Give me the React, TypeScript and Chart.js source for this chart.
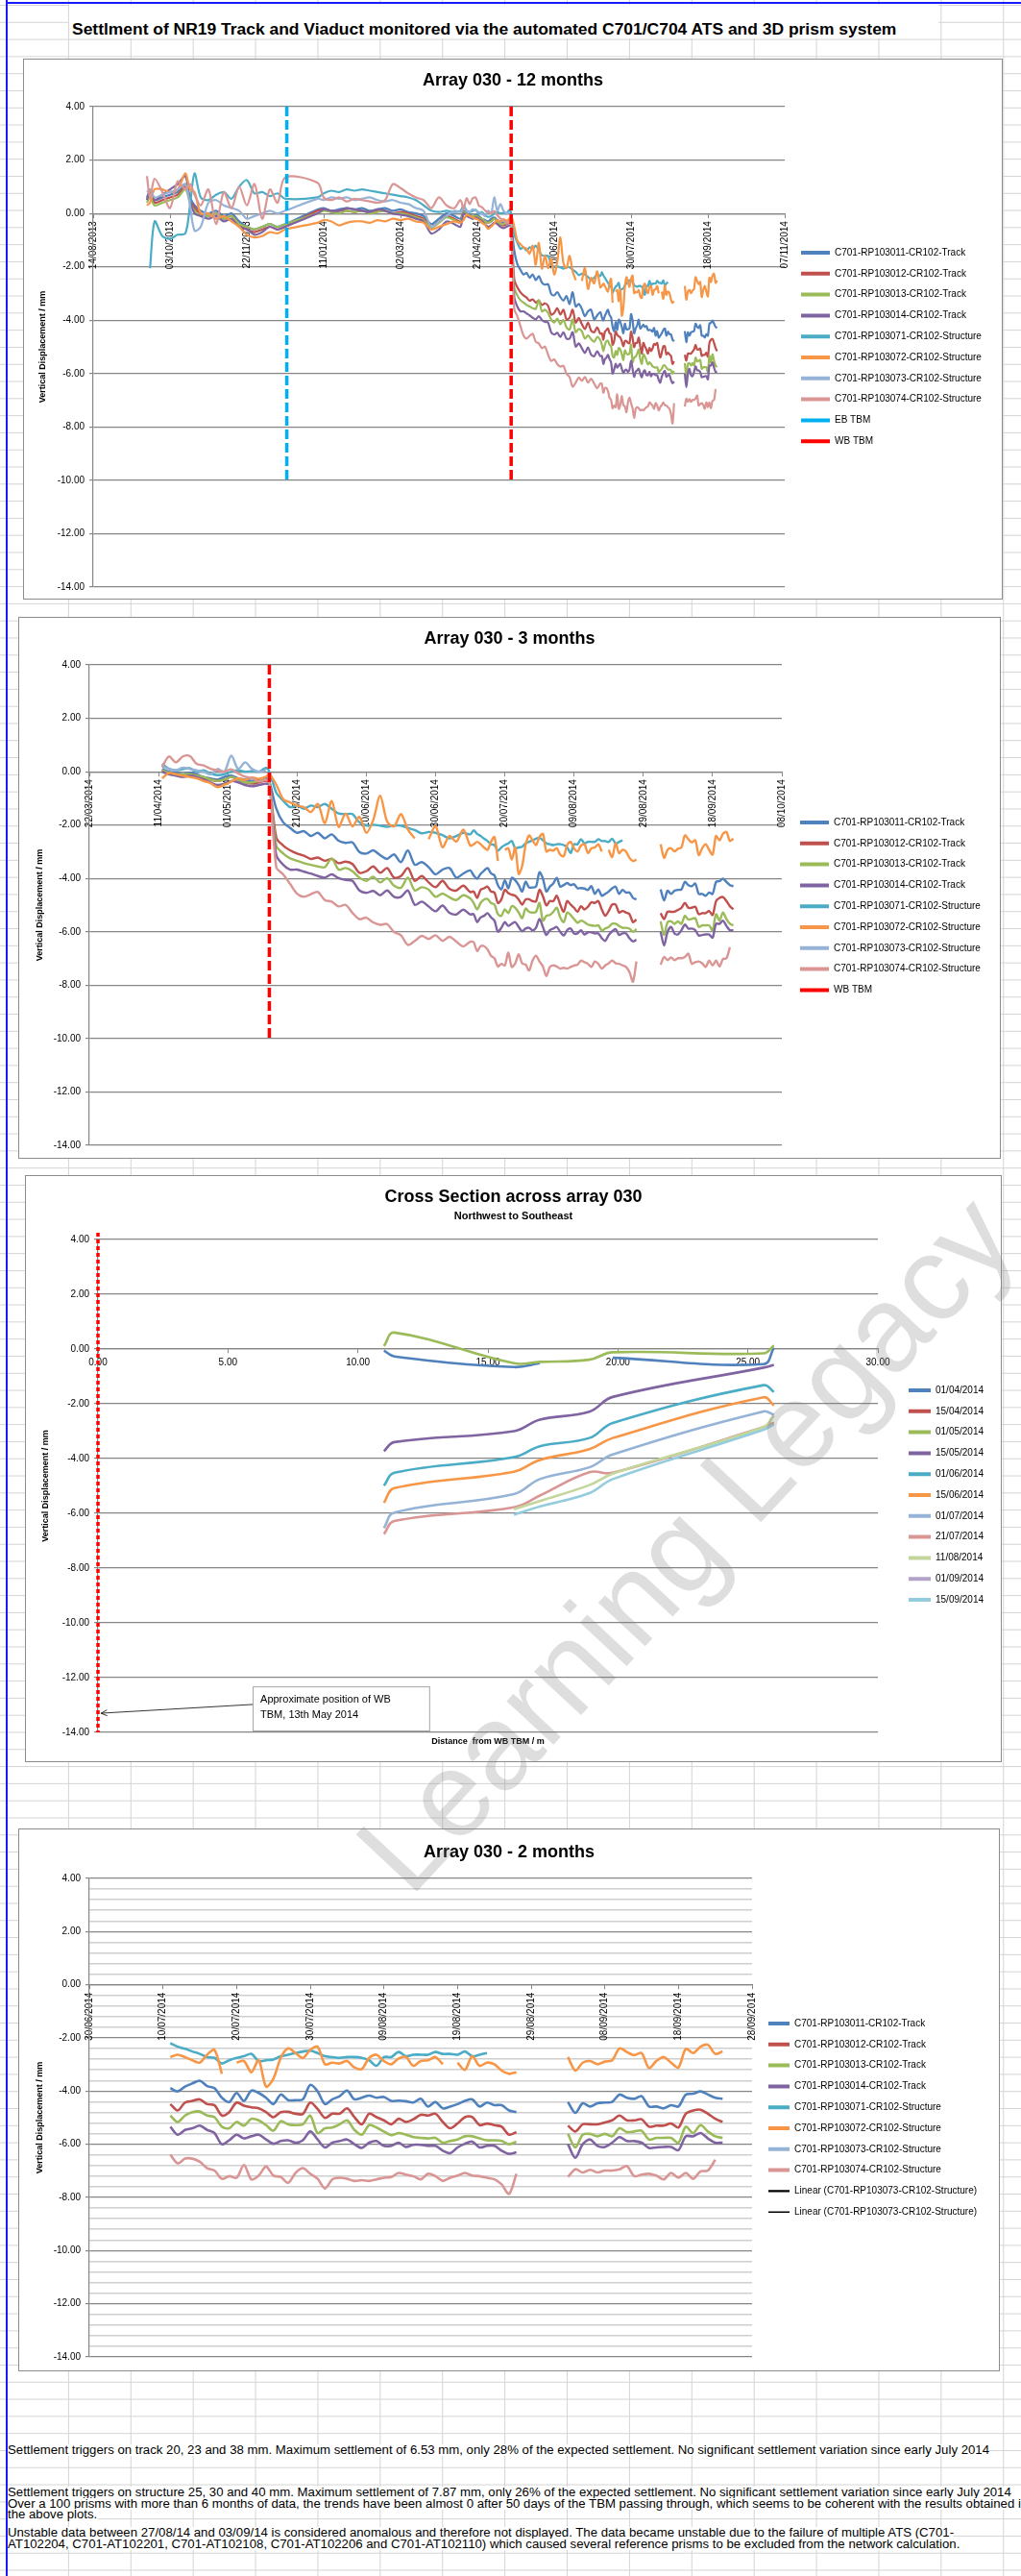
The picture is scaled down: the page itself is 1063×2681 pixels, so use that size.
import React, { useEffect, useRef } from "react";
import { Chart, registerables } from "chart.js";

Chart.register(...registerables);

const FONT = "'Liberation Sans', Arial, Helvetica, sans-serif";
Chart.defaults.font.family = FONT;
Chart.defaults.color = "#000";

// ---------------- DATA ----------------
const DATES = [
  "2013-09-18","2013-09-20","2013-09-23","2013-09-28","2013-10-03","2013-10-08","2013-10-13","2013-10-16","2013-10-19","2013-10-23",
  "2013-10-28","2013-11-02","2013-11-07","2013-11-12","2013-11-17","2013-11-22","2013-11-27","2013-12-02","2013-12-07","2013-12-12",
  "2013-12-17","2014-01-07","2014-01-11","2014-01-16","2014-01-21","2014-01-26","2014-01-31","2014-02-05","2014-02-10","2014-02-15",
  "2014-02-20","2014-02-25","2014-03-02","2014-03-07","2014-03-12","2014-03-17","2014-03-22","2014-03-27","2014-04-01","2014-04-06",
  "2014-04-10",
  "2014-04-12","2014-04-14","2014-04-16","2014-04-18","2014-04-20","2014-04-22","2014-04-24","2014-04-26","2014-04-28","2014-04-30",
  "2014-05-02","2014-05-04","2014-05-06","2014-05-08","2014-05-10","2014-05-12",
  "2014-05-13","2014-05-15","2014-05-17","2014-05-19","2014-05-21","2014-05-23","2014-05-25","2014-05-27","2014-05-29","2014-05-31",
  "2014-06-02","2014-06-04","2014-06-06","2014-06-08","2014-06-10","2014-06-12","2014-06-14","2014-06-16","2014-06-18","2014-06-20",
  "2014-06-22","2014-06-24","2014-06-26","2014-06-28","2014-06-30","2014-07-02","2014-07-04","2014-07-06","2014-07-08","2014-07-10",
  "2014-07-11","2014-07-12","2014-07-13","2014-07-14","2014-07-15","2014-07-16","2014-07-17","2014-07-18","2014-07-19","2014-07-20",
  "2014-07-21","2014-07-22","2014-07-23","2014-07-24","2014-07-25","2014-07-26","2014-07-27","2014-07-28","2014-07-29","2014-07-30",
  "2014-07-31","2014-08-01","2014-08-02","2014-08-03","2014-08-04","2014-08-05","2014-08-06","2014-08-07","2014-08-08","2014-08-09",
  "2014-08-10","2014-08-11","2014-08-12","2014-08-13","2014-08-14","2014-08-15","2014-08-16","2014-08-17","2014-08-18","2014-08-19",
  "2014-08-20","2014-08-21","2014-08-22","2014-08-23","2014-08-24","2014-08-25","2014-08-26","2014-08-27",
  "2014-08-30",
  "2014-09-03","2014-09-04","2014-09-05","2014-09-06","2014-09-07","2014-09-08","2014-09-09","2014-09-10","2014-09-11","2014-09-12",
  "2014-09-13","2014-09-14","2014-09-15","2014-09-16","2014-09-17","2014-09-18","2014-09-19","2014-09-20","2014-09-21","2014-09-22",
  "2014-09-23","2014-09-24",
];

const TRACK_11 = [
  0.6, 0.8, 0.5, 0.6, 0.7, 0.8, 1.1, 0.6, 0.3, 0.1, 0.0, 0.1, -0.1, 0.0, -0.3, -0.5, -0.6, -0.5, -0.4, -0.5, -0.4,
  0.15, 0.2, 0.1, 0.15, 0.2, 0.15, 0.2, 0.1, 0.15, 0.2, 0.1, 0.15, 0.05, 0.0, -0.1, -0.4, -0.2, 0.0, -0.1, -0.2,
  0.1, 0.0, -0.05, -0.1, -0.05, -0.1, -0.2, -0.25, -0.3, -0.2, -0.15, -0.25, -0.3, -0.35, -0.3, -0.25,
  -0.37, -1.39, -1.9, -2.11, -2.29, -2.23, -2.41, -2.29, -2.5, -2.35, -2.59, -2.67, -2.65, -3.01, -3.07, -2.95, -3.13, -3.27, -3.1, -3.39,
  -2.95, -3.49, -3.39, -3.58, -3.85, -3.67, -3.61, -3.97, -3.82, -3.7,
  -3.89, -4.01, -3.83, -3.71, -3.61, -3.81, -3.89, -4.25, -4.41, -4.07, -4.37, -3.98, -4.07, -4.25, -4.49, -4.13, -4.34, -4.34, -4.31, -3.77,
  -4.01, -4.49, -4.31, -4.19, -3.98, -4.31, -4.25, -4.17, -4.25, -4.22, -4.37, -4.36, -4.38, -4.43, -4.29, -4.58, -4.41, -4.65, -4.58, -4.49,
  -4.37, -4.31, -4.58, -4.43, -4.53, -4.53, -4.73, -4.79,
  null,
  -4.41, -4.82, -4.46, -4.58, -4.46, -4.43, -4.41, -4.13, -4.25, -4.29, -4.19, -4.58, -4.58, -4.65, -4.53, -4.58, -4.13, -4.1, -4.01, -4.13,
  -4.25, -4.29,
];
const TRACK_12 = [
  0.5, 0.7, 0.4, 0.5, 0.6, 0.7, 1.0, 0.5, 0.2, 0.0, -0.1, 0.0, -0.2, -0.1, -0.4, -0.6, -0.7, -0.6, -0.5, -0.6, -0.5,
  0.1, 0.15, 0.05, 0.1, 0.1, 0.05, 0.1, 0.05, 0.1, 0.1, 0.0, 0.05, 0.0, -0.1, -0.2, -0.5, -0.3, -0.1, -0.2, -0.3,
  0.05, -0.05, -0.1, -0.15, -0.1, -0.15, -0.25, -0.3, -0.35, -0.3, -0.2, -0.3, -0.4, -0.45, -0.4, -0.35,
  -0.45, -2.47, -2.77, -2.95, -3.07, -3.15, -3.27, -3.22, -3.34, -3.27, -3.43, -3.37, -3.46, -3.79, -3.73, -3.55, -3.79, -3.61, -3.97, -3.91,
  -3.61, -4.09, -3.91, -4.15, -4.33, -4.09, -4.39, -4.45, -4.27, -4.51,
  -4.49, -4.73, -4.43, -4.37, -4.31, -4.49, -4.53, -4.92, -4.79, -4.43, -4.55, -4.61, -4.65, -4.79, -4.98, -4.79, -4.78, -4.85, -4.86, -4.43,
  -4.67, -5.01, -4.85, -4.85, -4.65, -4.98, -5.25, -4.85, -4.98, -5.1, -5.25, -5.04, -5.16, -5.06, -4.89, -4.92, -4.85, -5.16, -5.4, -5.22,
  -4.98, -4.98, -5.28, -5.22, -5.28, -5.34, -5.64, -5.54,
  null,
  -5.3, -5.52, -5.25, -5.25, -5.25, -5.18, -5.1, -4.92, -5.1, -5.1, -5.06, -5.34, -5.3, -5.3, -5.22, -5.37, -4.85, -4.73, -4.7, -4.85,
  -5.04, -5.16,
];
const TRACK_13 = [
  0.4, 0.6, 0.3, 0.4, 0.5, 0.6, 0.9, 0.4, 0.1, -0.1, -0.1, 0.0, -0.2, -0.1, -0.4, -0.5, -0.6, -0.5, -0.4, -0.5, -0.4,
  0.0, 0.1, 0.05, 0.0, 0.1, 0.05, 0.1, 0.0, 0.05, 0.1, 0.0, 0.0, -0.05, -0.15, -0.25, -0.55, -0.35, -0.15, -0.25, -0.35,
  0.05, -0.05, -0.1, -0.1, -0.1, -0.15, -0.2, -0.3, -0.35, -0.3, -0.2, -0.3, -0.4, -0.4, -0.35, -0.3,
  -0.4, -2.77, -3.07, -3.25, -3.34, -3.43, -3.49, -3.55, -3.58, -3.25, -3.67, -3.61, -3.73, -3.97, -4.09, -3.94, -4.15, -3.99, -4.27, -4.35,
  -3.97, -4.45, -4.33, -4.42, -4.69, -4.57, -4.71, -4.81, -4.63, -4.75,
  -4.92, -5.16, -4.92, -4.79, -4.77, -4.92, -4.98, -5.34, -5.4, -5.16, -5.3, -5.04, -5.1, -5.28, -5.49, -5.13, -5.25, -5.28, -5.25, -4.92,
  -5.58, -5.4, -5.37, -5.25, -5.1, -5.46, -5.64, -5.28, -5.37, -5.52, -5.66, -5.58, -5.64, -5.73, -5.76, -5.78, -5.76, -5.94, -5.88, -5.82,
  -5.7, -5.7, -5.78, -5.85, -5.85, -5.88, -6.0, -5.9,
  null,
  -5.61, -6.12, -5.64, -5.61, -5.7, -5.61, -5.7, -5.4, -5.54, -5.52, -5.49, -5.82, -5.76, -5.76, -5.76, -5.94, -5.34, -5.58, -5.28, -5.52,
  -5.7, -5.76,
];
const TRACK_14 = [
  0.5, 0.9, 0.5, 0.7, 0.9, 1.1, 1.4, 0.5, 0.0, -0.1, -0.2, -0.1, -0.3, -0.2, -0.5, -0.6, -0.8, -0.7, -0.5, -0.6, -0.5,
  0.0, 0.15, 0.1, 0.1, 0.2, 0.15, 0.1, 0.05, 0.15, 0.1, 0.0, -0.05, -0.1, -0.2, -0.3, -0.75, -0.6, -0.3, -0.4, -0.5,
  0.0, -0.1, -0.15, -0.2, -0.15, -0.2, -0.3, -0.4, -0.5, -0.45, -0.35, -0.4, -0.5, -0.55, -0.5, -0.45,
  -0.5, -3.13, -3.49, -3.67, -3.67, -3.75, -3.82, -3.91, -3.97, -3.85, -3.99, -4.06, -4.09, -4.45, -4.54, -4.47, -4.63, -4.45, -4.69, -4.69,
  -4.45, -4.99, -4.87, -5.05, -5.23, -5.02, -5.29, -5.35, -5.17, -5.35,
  -5.34, -5.64, -5.46, -5.4, -5.3, -5.46, -5.58, -6.0, -5.85, -5.64, -5.78, -5.7, -5.64, -5.82, -5.98, -5.88, -5.85, -5.94, -5.85, -5.52,
  -5.82, -6.12, -5.94, -5.88, -5.82, -6.0, -6.14, -5.94, -5.88, -6.06, -6.06, -5.94, -6.1, -6.02, -6.02, -6.06, -6.06, -6.24, -6.34, -6.12,
  -5.98, -5.9, -6.12, -6.06, -6.06, -6.24, -6.36, -6.3,
  null,
  -6.0, -6.51, -6.0, -5.82, -6.06, -6.1, -5.94, -5.73, -5.88, -5.88, -5.94, -6.14, -6.12, -6.1, -6.1, -6.22, -5.7, -5.7, -5.58, -5.78,
  -5.94, -5.94,
];
const STRUCT_71 = [
  null, -2.05, -0.3, -0.85, -0.95, -0.8, -0.75, 0.3, 1.5, 0.6, 0.5, 0.7, 0.8, 0.55, 1.0, 1.25, 0.75, 0.8, 0.65, 0.75, 0.55,
  0.6, 0.75, 0.85, 0.8, 0.9, 0.85, 0.9, 0.85, 0.8, 0.75, 0.7, 0.65, 0.6, 0.5, 0.3, 0.1, 0.05, 0.1, 0.05, 0.1,
  0.29, 0.11, 0.05, 0.09, 0.13, -0.01, 0.05, -0.07, -0.13, -0.1, 0.0, 0.05, 0.0, 0.02, 0.0, 0.14,
  0.0, -0.79, -1.09, -1.33, -1.27, -1.39, -1.27, -1.33, -1.21, -1.39, -1.57, -1.59, -1.59, -1.9, -2.02, -1.99, -2.02, -2.07, -2.02, -2.02,
  -2.11, -2.19, -2.31, -2.26, -2.29, -2.38, -2.5, -2.41, -2.29, -2.35,
  -2.2, -2.33, -2.41, -2.51, -2.6, -2.72, -2.75, -2.96, -2.84, -2.75, -2.69, -2.6, -2.87, -2.84, -2.81, -2.69, -2.63, -2.57, -2.51, -2.48,
  -2.57, -2.69, -2.72, -2.75, -2.72, -2.72, -2.75, -2.84, -3.05, -2.72, -2.72, -2.53, -2.69, -2.63, -2.63, -2.63, -2.53, -2.6, -2.6, -2.63,
  -2.51, -2.69, -2.63, -2.57, null, null, null, null,
];
const STRUCT_72 = [
  0.3, 0.4, 0.9, 0.9, 0.8, 0.9, 1.5, 0.9, 0.8, 0.0, 0.0, -0.2, -0.1, -0.3, -0.5, -0.8, -0.9, -0.85, -0.7, -0.75, -0.6,
  -0.35, -0.25, -0.3, -0.45, -0.35, -0.3, -0.3, -0.35, -0.25, -0.3, -0.2, -0.25, -0.2, -0.3, -0.35, -0.6, -0.5, -0.4, -0.3, -0.35,
  -0.25, -0.05, -0.1, -0.15, -0.2, -0.25, -0.35, -0.43, -0.58, -0.49, -0.37, -0.25, -0.31, -0.22, -0.27, -0.19,
  -0.1, -0.49, -1.03, -1.15, -1.27, -1.33, -1.51, -1.21, -1.93, -1.1, -2.07, -1.57, -2.05, -1.69, -2.29, -1.81, -0.9, -1.87, -2.05, -1.59,
  -2.17, -2.5, null, -2.53, -2.05, -2.83, -2.41, -2.62, -2.17, -2.77,
  -2.72, -2.63, -2.72, -2.84, -2.93, -2.63, -2.45, -3.35, null, -2.93, -2.87, -3.29, -2.84, -3.83, -3.53, -2.75, -2.39, -2.57, -2.75, -2.45,
  -2.33, -2.99, -2.93, -2.96, -2.87, -3.11, -3.17, -2.75, -2.63, -2.87, -2.99, -2.77, -2.72, -3.05, -2.87, -2.84, -2.72, -2.99, null, -2.93,
  -3.2, -2.69, -3.05, -2.93, -2.99, -3.23, -3.35, -3.29,
  null,
  -2.72, -3.23, -2.93, -2.87, -2.99, -2.89, -2.84, -2.39, -2.53, -2.65, -2.57, -3.13, -2.87, -2.72, -2.93, -3.11, -2.41, -2.57, -2.33, -2.26,
  -2.6, -2.51,
];
const STRUCT_73 = [
  0.8, 0.9, 0.6, 0.7, 0.8, 0.9, 1.1, 0.3, -0.65, -0.5, 0.4, 0.5, 0.3, 0.2, 0.1, -0.2, -0.1, 0.0, 0.1, 0.0, 0.1,
  0.55, 0.5, 0.6, 0.55, 0.6, 0.5, 0.55, 0.6, 0.5, 0.45, 0.5, 0.4, 0.35, 0.2, 0.1, -0.5, -0.3, -0.1, 0.1, 0.05,
  0.2, 0.1, 0.05, 0.15, 0.1, 0.05, 0.0, -0.1, 0.1, 0.0, 0.6, 0.1, 0.35, 0.1, 0.0, 0.05,
];
const STRUCT_74 = [
  1.4, 0.6, 1.3, 0.8, 0.2, 1.2, 0.9, 1.1, 0.7, 0.3, 0.9, -0.4, 0.8, 0.2, 1.0, 0.3, 1.1, -0.2, 0.9, 0.4, 1.35,
  1.15, 0.6, 0.5, 0.6, 0.45, 0.55, 0.5, 0.45, 0.4, 0.5, 1.1, 0.95, 0.75, 0.6, 0.5, 0.2, 0.6, 0.3, 0.2, 0.5,
  0.17, 0.57, 0.35, 0.57, 0.59, 0.29, 0.23, 0.11, 0.05, 0.0, 0.09, -0.07, -0.19, -0.25, -0.37, -0.31,
  -0.4, -3.58, -3.85, -4.21, -4.57, -4.69, -4.59, -4.51, -4.81, -4.87, -5.05, -4.99, -5.29, -5.53, -5.47, -5.65, -5.74, -5.71, -6.01, -6.13,
  -6.49, -6.34, -6.15, -6.27, -6.13, -6.34, -6.19, -6.37, -6.55, -6.37,
  -6.39, -6.72, -6.54, -6.54, -6.66, -6.9, -6.99, -7.3, -7.2, -7.26, -6.78, -7.32, -7.18, -6.84, -7.18, -7.23, -7.45, -7.08, -6.9, -7.11,
  -7.3, -7.66, -7.32, -7.26, -7.3, -7.38, -7.35, -7.38, -7.32, -7.26, -7.23, -7.08, -7.14, -7.2, -7.32, -7.11, -7.2, -7.38, -7.26, -7.18,
  -7.08, -7.18, -7.2, -7.26, -7.32, -7.51, -7.87, -7.11,
  null,
  -7.23, -6.94, -7.06, -6.96, -7.06, -6.99, -6.99, -6.94, -6.82, -7.2, -7.14, -7.11, -7.18, -7.32, -7.08, -7.26, -7.08, -7.3, -7.02, -6.99,
  -6.58, null,
];

const SERIES_LABELS = [
  "C701-RP103011-CR102-Track", "C701-RP103012-CR102-Track", "C701-RP103013-CR102-Track", "C701-RP103014-CR102-Track",
  "C701-RP103071-CR102-Structure", "C701-RP103072-CR102-Structure", "C701-RP103073-CR102-Structure", "C701-RP103074-CR102-Structure",
];
const SERIES_VALUES = [TRACK_11, TRACK_12, TRACK_13, TRACK_14, STRUCT_71, STRUCT_72, STRUCT_73, STRUCT_74];
const SERIES_COLORS = ["#4F81BD", "#C0504D", "#9BBB59", "#8064A2", "#4BACC6", "#F79646", "#95B3D7", "#D99694"];

const EB_TBM_DATE = "2013-12-18";
const WB_TBM_DATE = "2014-05-13";
const TBM_LINE_Y = [4, -10];
const TREND_LABELS = ["Linear (C701-RP103073-CR102-Structure)", "Linear (C701-RP103073-CR102-Structure)"];

const X_TICKS_12M = ["2013-08-14","2013-10-03","2013-11-22","2014-01-11","2014-03-02","2014-04-21","2014-06-10","2014-07-30","2014-09-18","2014-11-07"];
const X_TICKS_3M = ["2014-03-22","2014-04-11","2014-05-01","2014-05-21","2014-06-10","2014-06-30","2014-07-20","2014-08-09","2014-08-29","2014-09-18","2014-10-08"];
const X_TICKS_2M = ["2014-06-30","2014-07-10","2014-07-20","2014-07-30","2014-08-09","2014-08-19","2014-08-29","2014-09-08","2014-09-18","2014-09-28"];
const START_3M = "2014-04-11";
const START_2M = "2014-07-11";
const Y_TICKS = [4, 2, 0, -2, -4, -6, -8, -10, -12, -14];

// cross section
const CS_DIST = [11.0, 11.4, 16.0, 17.0, 18.9, 19.8, 25.6, 26.0];
const CS_LABELS = ["01/04/2014","15/04/2014","01/05/2014","15/05/2014","01/06/2014","15/06/2014","01/07/2014","21/07/2014","11/08/2014","01/09/2014","15/09/2014"];
const CS_0104 = [-0.06, -0.27, -0.66, -0.52, null, -0.32, -0.55, 0.05];
const CS_1504 = [null, null, null, null, null, null, null, null];
const CS_0105 = [0.11, 0.6, -0.52, -0.47, -0.39, -0.12, -0.16, 0.13];
const CS_1505 = [-3.73, -3.4, -3.0, -2.58, -2.29, -1.75, -0.68, -0.58];
const CS_0106 = [-4.99, -4.52, -3.95, -3.55, -3.25, -2.7, -1.32, -1.57];
const CS_1506 = [-5.61, -5.08, -4.48, -4.05, -3.66, -3.25, -1.76, -2.06];
const CS_0107 = [-6.54, -5.97, -5.3, -4.75, -4.32, -3.85, -2.28, -2.4];
const CS_2107 = [-6.76, -6.28, -5.78, -5.35, -4.5, -4.52, -2.85, -2.69];
const CS_1108 = [null, null, -5.85, -5.55, -4.97, -4.55, -2.85, -2.43];
const CS_0109 = [null, null, null, null, null, null, null, null];
const CS_1509 = [null, null, -6.05, -5.75, -5.26, -4.75, -2.95, -2.75];
const CS_VALUES = [CS_0104, CS_1504, CS_0105, CS_1505, CS_0106, CS_1506, CS_0107, CS_2107, CS_1108, CS_0109, CS_1509];
const CS_COLORS = ["#4F81BD", "#C0504D", "#9BBB59", "#8064A2", "#4BACC6", "#F79646", "#95B3D7", "#D99694", "#C3D69B", "#B3A2C7", "#93CDDD"];
const CS_X_TICKS = [0, 5, 10, 15, 20, 25, 30];
const CS_WB_X = 0;
const CS_WB_Y = [4.25, -14];
const CS_NOTE = ["Approximate position of WB", "TBM, 13th May 2014"];
const CS_NOTE_BOX = [5.95, 12.74, -12.32, -13.93];
const CS_ARROW = [5.95, -12.98, 0.12, -13.3];

// ---------------- HELPERS ----------------
const DAY = 86400000;
const dayNum = (s: string) => Date.UTC(+s.slice(0, 4), +s.slice(5, 7) - 1, +s.slice(8, 10)) / DAY;
const two = (n: number) => (n < 10 ? "0" : "") + n;
const fmtDate = (v: number) => {
  const d = new Date(Math.round(v) * DAY);
  return `${two(d.getUTCDate())}/${two(d.getUTCMonth() + 1)}/${d.getUTCFullYear()}`;
};

// pins the legend block and centres the title blocks over the whole chart frame
const layoutPins = {
  id: "layoutPins",
  afterLayout(chart: any, _a: any, opts: any) {
    (chart.boxes || []).forEach((b: any) => {
      if (b.options && b.options.position === "top" && b.fullSize && b !== chart.legend) {
        b.left = 0;
        b.right = chart.width;
        b.width = chart.width;
      }
    });
    const lg = chart.legend;
    if (!lg || !opts || opts.x == null) return;
    const pad = lg.options.labels.padding;
    const fs = lg.options.labels.font.size || 10;
    lg.left = opts.x - pad;
    lg.right = chart.width;
    lg.top = opts.y - fs / 2 - pad;
    lg.bottom = chart.height;
  },
};

function legendLabels(chart: any) {
  const items = Chart.defaults.plugins.legend.labels.generateLabels(chart);
  return items.map((it: any) => {
    const ds = chart.data.datasets[it.datasetIndex];
    return {
      ...it,
      fillStyle: ds.borderColor,
      strokeStyle: ds.borderColor,
      lineWidth: ds.legendWidth || 4,
      lineDash: ds.borderDash || [],
      lineCap: "butt",
    };
  });
}

function baseOptions(sp: any) {
  const [pl, pt, pr, pb] = sp.plot;
  const TS = 18;
  const lh = TS * 1.2;
  const tTop = sp.titleY - lh / 2;
  let titleBottom: number;
  let subtitle: any = { display: false };
  if (sp.subtitle) {
    const slh = 11 * 1.2;
    const sTop = sp.subtitleY - slh / 2;
    titleBottom = sTop - (tTop + lh);
    subtitle = {
      display: true, text: sp.subtitle, color: "#000",
      font: { size: 11, weight: "bold" }, padding: { top: 0, bottom: pt - sTop - slh },
    };
  } else {
    titleBottom = pt - tTop - lh;
  }
  const yMajor = (v: number) => Math.abs(v / 2 - Math.round(v / 2)) < 1e-6;
  return {
    responsive: false,
    animation: false,
    devicePixelRatio: 1,
    events: [],
    layout: { padding: { left: 0, top: 0, right: sp.W - pr - 1, bottom: sp.H - pb } },
    plugins: {
      title: {
        display: true, text: sp.title, color: "#000",
        font: { size: TS, weight: "bold" }, padding: { top: tTop, bottom: titleBottom },
      },
      subtitle,
      legend: {
        display: true, position: "right", align: "start", fullSize: false, maxWidth: 1,
        labels: {
          boxWidth: sp.boxWidth, boxHeight: 0, padding: 11.8, color: "#000",
          font: { size: 10 }, generateLabels: legendLabels,
          filter: (it: any, data: any) => !data.datasets[it.datasetIndex].hideInLegend,
          sort: (a: any, b: any) => a.datasetIndex - b.datasetIndex,
        },
      },
      tooltip: { enabled: false },
      layoutPins: { x: sp.legendX, y: sp.legendY },
    },
    scales: {
      x: {
        type: "linear",
        position: { y: 0 },
        min: sp.xMin, max: sp.xMax,
        afterBuildTicks: (s: any) => { s.ticks = sp.xTicks.map((v: number) => ({ value: v })); },
        ticks: {
          callback: sp.xFmt, autoSkip: false, minRotation: sp.xRot, maxRotation: sp.xRot,
          font: { size: 10 }, color: "#000", padding: 4,
        },
        grid: { drawOnChartArea: false, drawTicks: true, tickLength: 4, color: "#868686" },
        border: { display: true, color: "#868686", width: 1.2 },
      },
      y: {
        type: "linear",
        min: -14, max: 4,
        afterBuildTicks: (s: any) => { s.ticks = sp.yTicks.map((v: number) => ({ value: v })); },
        afterFit: (s: any) => { s.width = pl; },
        ticks: {
          callback: (v: any) => (yMajor(+v) ? (+v).toFixed(2) : ""),
          autoSkip: false, font: { size: 10 }, color: "#000", padding: 5,
        },
        grid: {
          color: (c: any) => (c.tick && !yMajor(c.tick.value) ? "#cfcfcf" : "#868686"),
          lineWidth: (c: any) => (c.tick && !yMajor(c.tick.value) ? 1.5 : 1.2),
          tickColor: (c: any) => (c.tick && !yMajor(c.tick.value) ? "rgba(0,0,0,0)" : "#868686"),
          drawTicks: true, tickLength: 4,
        },
        border: { display: true, color: "#868686", width: 1.2 },
        title: {
          display: true, text: "Vertical Displacement / mm", color: "#000",
          font: { size: 9, weight: "bold" }, padding: { top: sp.yTitleX - 5.4, bottom: 0 },
        },
      },
    },
  };
}

function timeSeriesDatasets(from: string, width: number) {
  const f = dayNum(from);
  return SERIES_VALUES.map((vals, i) => ({
    label: SERIES_LABELS[i],
    data: DATES.map((d, j) => ({ x: dayNum(d), y: j < vals.length ? vals[j] : null })).filter((p) => p.x >= f),
    borderColor: SERIES_COLORS[i],
    backgroundColor: SERIES_COLORS[i],
    borderWidth: width,
    pointRadius: 0,
    tension: 0.3,
    spanGaps: false,
    order: 100 - i,
  }));
}

function tbmDataset(label: string, date: string, color: string) {
  return {
    label,
    data: TBM_LINE_Y.map((y) => ({ x: dayNum(date), y })),
    borderColor: color, backgroundColor: color,
    borderWidth: 3.5, borderDash: [10, 4], pointRadius: 0, order: 0,
  };
}

function config12m() {
  const datasets: any[] = timeSeriesDatasets(DATES[0], 2.2);
  datasets.push(tbmDataset("EB TBM", EB_TBM_DATE, "#00B0F0"));
  datasets.push(tbmDataset("WB TBM", WB_TBM_DATE, "#FF0000"));
  return {
    type: "line",
    data: { datasets },
    options: baseOptions({
      W: 1020, H: 563, plot: [73, 50, 793, 550], title: "Array 030 - 12 months", titleY: 23,
      yTitleX: 21, legendX: 810, legendY: 202, boxWidth: 30,
      xMin: dayNum(X_TICKS_12M[0]), xMax: dayNum(X_TICKS_12M[X_TICKS_12M.length - 1]),
      xTicks: X_TICKS_12M.map(dayNum), xFmt: fmtDate, xRot: 90, yTicks: Y_TICKS,
    }),
    plugins: [layoutPins],
  };
}

function config3m() {
  const datasets: any[] = timeSeriesDatasets(START_3M, 2.4);
  datasets.push(tbmDataset("WB TBM", WB_TBM_DATE, "#FF0000"));
  return {
    type: "line",
    data: { datasets },
    options: baseOptions({
      W: 1023, H: 564, plot: [74, 50, 795, 550], title: "Array 030 - 3 months", titleY: 23,
      yTitleX: 23, legendX: 814, legendY: 214, boxWidth: 30,
      xMin: dayNum(X_TICKS_3M[0]), xMax: dayNum(X_TICKS_3M[X_TICKS_3M.length - 1]),
      xTicks: X_TICKS_3M.map(dayNum), xFmt: fmtDate, xRot: 90, yTicks: Y_TICKS,
    }),
    plugins: [layoutPins],
  };
}

function config2m() {
  const datasets: any[] = timeSeriesDatasets(START_2M, 2.6);
  TREND_LABELS.forEach((lab, k) => {
    datasets.push({
      label: lab, data: [], borderColor: "#000", backgroundColor: "#000",
      borderWidth: 2, legendWidth: k === 0 ? 2.2 : 1.6, pointRadius: 0, order: 0,
    });
  });
  const minor: number[] = [];
  for (let k = 0; k <= 45; k++) minor.push(+(4 - 0.4 * k).toFixed(1));
  return {
    type: "line",
    data: { datasets },
    options: baseOptions({
      W: 1022, H: 565, plot: [74, 52, 764, 550], title: "Array 030 - 2 months", titleY: 25,
      yTitleX: 23, legendX: 781, legendY: 203, boxWidth: 22,
      xMin: dayNum(X_TICKS_2M[0]), xMax: dayNum(X_TICKS_2M[X_TICKS_2M.length - 1]),
      xTicks: X_TICKS_2M.map(dayNum), xFmt: fmtDate, xRot: 90, yTicks: minor,
    }),
    plugins: [layoutPins],
  };
}

const csExtras = {
  id: "csExtras",
  afterDraw(chart: any) {
    const { ctx, chartArea, scales } = chart;
    const x = scales.x, y = scales.y;
    ctx.save();
    ctx.fillStyle = "#000";
    ctx.font = `bold 9px ${FONT}`;
    ctx.textAlign = "center";
    ctx.textBaseline = "middle";
    ctx.fillText("Distance  from WB TBM / m", (chartArea.left + chartArea.right) / 2, chartArea.bottom + 10);
    const bx1 = x.getPixelForValue(CS_NOTE_BOX[0]);
    const bx2 = x.getPixelForValue(CS_NOTE_BOX[1]);
    const by1 = y.getPixelForValue(CS_NOTE_BOX[2]);
    const by2 = y.getPixelForValue(CS_NOTE_BOX[3]);
    ctx.fillStyle = "#fff";
    ctx.fillRect(bx1, by1, bx2 - bx1, by2 - by1);
    ctx.strokeStyle = "#a6a6a6";
    ctx.lineWidth = 1;
    ctx.strokeRect(bx1 + 0.5, by1 + 0.5, bx2 - bx1, by2 - by1);
    ctx.fillStyle = "#000";
    ctx.font = `11px ${FONT}`;
    ctx.textAlign = "left";
    CS_NOTE.forEach((t, i) => ctx.fillText(t, bx1 + 8, by1 + 14 + i * 16));
    const ax1 = x.getPixelForValue(CS_ARROW[0]), ay1 = y.getPixelForValue(CS_ARROW[1]);
    const ax2 = x.getPixelForValue(CS_ARROW[2]), ay2 = y.getPixelForValue(CS_ARROW[3]);
    ctx.strokeStyle = "#000";
    ctx.lineWidth = 0.8;
    ctx.beginPath();
    ctx.moveTo(ax1, ay1);
    ctx.lineTo(ax2, ay2);
    const ang = Math.atan2(ay1 - ay2, ax1 - ax2);
    [0.45, -0.45].forEach((da) => {
      ctx.moveTo(ax2, ay2);
      ctx.lineTo(ax2 + 7 * Math.cos(ang + da), ay2 + 7 * Math.sin(ang + da));
    });
    ctx.stroke();
    ctx.restore();
  },
};

function configCross() {
  const datasets: any[] = CS_VALUES.map((vals, i) => ({
    label: CS_LABELS[i],
    data: CS_DIST.map((d, j) => ({ x: d, y: vals[j] })),
    borderColor: CS_COLORS[i], backgroundColor: CS_COLORS[i],
    borderWidth: 2.6, pointRadius: 0, tension: 0.4, spanGaps: false, order: 100 - i,
  }));
  datasets.push({
    label: "WB TBM", hideInLegend: true,
    data: CS_WB_Y.map((y) => ({ x: CS_WB_X, y })),
    borderColor: "#FF0000", backgroundColor: "#FF0000",
    borderWidth: 3.5, borderDash: [4, 3], pointRadius: 0, order: 0, clip: false,
  });
  return {
    type: "line",
    data: { datasets },
    options: baseOptions({
      W: 1017, H: 611, plot: [76, 67, 888, 580], title: "Cross Section across array 030", titleY: 23,
      subtitle: "Northwest to Southeast", subtitleY: 43,
      yTitleX: 22, legendX: 920, legendY: 224, boxWidth: 23,
      xMin: 0, xMax: 30, xTicks: CS_X_TICKS, xFmt: (v: number) => (+v).toFixed(2), xRot: 0, yTicks: Y_TICKS,
    }),
    plugins: [layoutPins, csExtras],
  };
}

function ChartBox({ frame, make }: { frame: number[]; make: () => any }) {
  const ref = useRef<HTMLCanvasElement>(null);
  useEffect(() => {
    const chart = new Chart(ref.current as HTMLCanvasElement, make());
    return () => chart.destroy();
  }, []);
  const [l, t, w, h] = frame;
  return (
    <div style={{ position: "absolute", left: l, top: t, width: w, height: h, background: "#fff" }}>
      <canvas ref={ref} width={w} height={h} style={{ display: "block", width: w, height: h }} />
      <div style={{ position: "absolute", left: 0, top: 0, right: 0, bottom: 0, border: "1.5px solid #8c8c8c", pointerEvents: "none" }} />
    </div>
  );
}

const NOTES = [
  { top: 2544, text: "Settlement triggers on track 20, 23 and 38 mm. Maximum settlement of 6.53 mm, only 28% of the expected settlement. No significant settlement variation since early July 2014" },
  { top: 2588, text: "Settlement triggers on structure 25, 30 and 40 mm. Maximum settlement of 7.87 mm, only 26% of the expected settlement. No significant settlement variation since early July 2014" },
  { top: 2600, text: "Over a 100 prisms with more than 6 months of data, the trends have been almost 0 after 50 days of the TBM passing through, which seems to be coherent with the results obtained in" },
  { top: 2611, text: "the above plots." },
  { top: 2630, text: "Unstable data between 27/08/14 and 03/09/14 is considered anomalous and therefore not displayed. The data became unstable due to the failure of multiple ATS (C701-" },
  { top: 2642, text: "AT102204, C701-AT102201, C701-AT102108, C701-AT102206 and C701-AT102110) which caused several reference prisms to be excluded from the network calculation." },
];

export default function App() {
  return (
    <div
      style={{
        position: "absolute", left: 0, top: 0, width: 1063, height: 2681, overflow: "hidden",
        fontFamily: FONT, background: "#fff",
        backgroundImage:
          "linear-gradient(to right, #d4d4d4 1px, transparent 1px), linear-gradient(to bottom, #d4d4d4 1px, transparent 1px)",
        backgroundSize: "64.9px 100%, 100% 17.8px",
        backgroundPosition: "6px 0, 0 5px",
      }}
    >
      <div style={{ position: "absolute", left: 6, top: 0, width: 2, height: 2681, background: "#1a1aff" }} />
      <div style={{ position: "absolute", left: 6, top: 2, width: 1057, height: 2, background: "#1a1aff" }} />
      <div style={{ position: "absolute", left: 72, top: 5, width: 905, height: 35, background: "#fff" }} />
      <div
        style={{
          position: "absolute", left: 75, top: 21, fontSize: 16, fontWeight: "bold", whiteSpace: "nowrap",
          lineHeight: "20px", transform: "scaleX(1.09)", transformOrigin: "0 0",
        }}
      >
        Settlment of NR19 Track and Viaduct monitored via the automated C701/C704 ATS and 3D prism system
      </div>

      <ChartBox frame={[24, 61, 1020, 563]} make={config12m} />
      <ChartBox frame={[19, 642, 1023, 564]} make={config3m} />
      <ChartBox frame={[26, 1223, 1017, 611]} make={configCross} />
      <ChartBox frame={[19, 1903, 1022, 565]} make={config2m} />

      {NOTES.map((n, i) => (
        <div
          key={i}
          style={{
            position: "absolute", left: 8, top: n.top, fontSize: 12, lineHeight: "12px", whiteSpace: "nowrap",
            background: "#fff", transform: "scaleX(1.1)", transformOrigin: "0 0",
          }}
        >
          {n.text}
        </div>
      ))}

      <svg width={1063} height={2681} style={{ position: "absolute", left: 0, top: 0, pointerEvents: "none" }}>
        <text
          x={0} y={0} transform="translate(427,1976) rotate(-47)"
          fontFamily={FONT} fontSize={126} fill="rgba(128,128,128,0.26)"
        >
          Learning Legacy
        </text>
      </svg>
    </div>
  );
}
